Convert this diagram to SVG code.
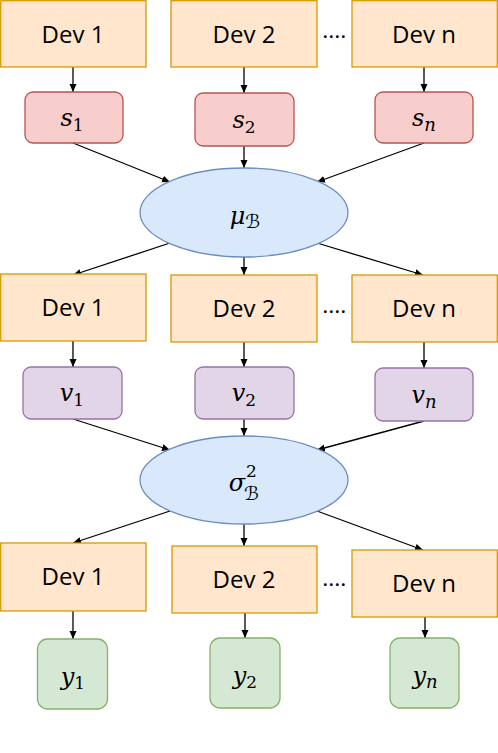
<svg xmlns="http://www.w3.org/2000/svg" width="498" height="753" viewBox="0 0 498 753">
<style>
.dev{fill:#ffe6cc;stroke:#d79b00;stroke-width:1.3}
.s{fill:#f8cecc;stroke:#b85450;stroke-width:1.3}
.v{fill:#e1d5e7;stroke:#9673a6;stroke-width:1.3}
.y{fill:#d5e8d4;stroke:#82b366;stroke-width:1.3}
.e{fill:#dae8fc;stroke:#6c8ebf;stroke-width:1.3}
.lbl{font-family:"Open Sans","Noto Sans",sans-serif;font-size:24px;fill:#000;text-anchor:middle}
.m{font-family:"DejaVu Serif","Liberation Serif",serif;font-style:italic;font-size:24px;fill:#000}
.sub{font-family:"DejaVu Serif","Liberation Serif",serif;font-style:normal;font-size:17px}
.subi{font-family:"DejaVu Serif","Liberation Serif",serif;font-style:italic;font-size:18px}
.cal{font-family:"DejaVu Sans","DejaVu Serif",serif;font-style:normal;font-size:19px}
.dots{font-family:"Open Sans",sans-serif;font-size:16px;font-weight:bold;fill:#000;text-anchor:middle;letter-spacing:1.5px}
.c line{stroke:#000;stroke-width:1.3;marker-end:url(#ah)}
</style>
<defs>
<marker id="ah" markerUnits="userSpaceOnUse" markerWidth="9" markerHeight="8" refX="8" refY="3.5" orient="auto">
<path d="M0,0 L8,3.5 L0,7 z" fill="#000"/>
</marker>
</defs>
<g id="connectors" class="c">
<line x1="73" y1="67" x2="73" y2="92"/>
<line x1="244" y1="67" x2="244" y2="93"/>
<line x1="424" y1="67" x2="424" y2="92"/>
<line x1="73" y1="143" x2="170" y2="182"/>
<line x1="244" y1="146" x2="244" y2="168"/>
<line x1="424" y1="143" x2="317" y2="182"/>
<line x1="170" y1="243" x2="73" y2="275"/>
<line x1="244" y1="257" x2="244" y2="275"/>
<line x1="317" y1="243" x2="423" y2="275"/>
<line x1="73" y1="341" x2="73" y2="367"/>
<line x1="244" y1="342" x2="244" y2="367"/>
<line x1="424" y1="342" x2="424" y2="368"/>
<line x1="73" y1="419" x2="170" y2="450"/>
<line x1="244" y1="419" x2="244" y2="436"/>
<line x1="424" y1="421" x2="317" y2="450"/>
<line x1="170" y1="511" x2="73" y2="543"/>
<line x1="244" y1="524" x2="244" y2="546"/>
<line x1="317" y1="511" x2="423" y2="550"/>
<line x1="73" y1="611" x2="73" y2="639"/>
<line x1="245" y1="613" x2="245" y2="638"/>
<line x1="425" y1="617" x2="425" y2="638"/>
</g>
<g id="dev1a"><rect class="dev" x="0.7" y="0.7" width="145.3" height="66.3"/><text class="lbl" x="73" y="43">Dev 1</text></g>
<g id="dev2a"><rect class="dev" x="171" y="0.7" width="146" height="66.3"/><text class="lbl" x="244" y="43">Dev 2</text></g>
<g id="dotsA"><text class="dots" x="335" y="38">....</text></g>
<g id="devna"><rect class="dev" x="352" y="0.7" width="145.3" height="66.3"/><text class="lbl" x="424" y="43">Dev n</text></g>
<g id="s1"><rect class="s" x="25" y="92" width="98" height="51" rx="8"/><text class="m" x="72" y="126" text-anchor="middle">s<tspan class="sub" dy="5">1</tspan></text></g>
<g id="s2"><rect class="s" x="195" y="93" width="99" height="53" rx="8"/><text class="m" x="244" y="128" text-anchor="middle">s<tspan class="sub" dy="5">2</tspan></text></g>
<g id="sn"><rect class="s" x="375" y="92" width="98" height="51" rx="8"/><text class="m" x="424" y="126" text-anchor="middle">s<tspan class="subi" dy="5">n</tspan></text></g>
<g id="mu"><ellipse class="e" cx="244" cy="212.5" rx="104" ry="44.5"/><text class="m" x="245" y="224" text-anchor="middle">μ<tspan class="cal" dy="4">ℬ</tspan></text></g>
<g id="dev1b"><rect class="dev" x="0.7" y="274" width="145.3" height="67"/><text class="lbl" x="73" y="316">Dev 1</text></g>
<g id="dev2b"><rect class="dev" x="171" y="275" width="146" height="67"/><text class="lbl" x="244" y="317">Dev 2</text></g>
<g id="dotsB"><text class="dots" x="335" y="313">....</text></g>
<g id="devnb"><rect class="dev" x="352" y="275" width="145.3" height="67"/><text class="lbl" x="424" y="317">Dev n</text></g>
<g id="v1"><rect class="v" x="23" y="367" width="99" height="52" rx="8"/><text class="m" x="72" y="401" text-anchor="middle">v<tspan class="sub" dy="5">1</tspan></text></g>
<g id="v2"><rect class="v" x="195" y="367" width="99" height="52" rx="8"/><text class="m" x="244" y="401" text-anchor="middle">v<tspan class="sub" dy="5">2</tspan></text></g>
<g id="vn"><rect class="v" x="375" y="368" width="98" height="53" rx="8"/><text class="m" x="424" y="403" text-anchor="middle">v<tspan class="subi" dy="5">n</tspan></text></g>
<g id="sigma"><ellipse class="e" cx="244" cy="480" rx="104" ry="44"/><text class="m" x="237" y="491" text-anchor="middle">σ</text><text class="sub" x="246" y="477">2</text><text class="cal" x="244" y="500">ℬ</text></g>
<g id="dev1c"><rect class="dev" x="0.7" y="543" width="145.3" height="68"/><text class="lbl" x="73" y="585">Dev 1</text></g>
<g id="dev2c"><rect class="dev" x="172" y="546" width="145" height="67"/><text class="lbl" x="244" y="588">Dev 2</text></g>
<g id="dotsC"><text class="dots" x="335" y="586">....</text></g>
<g id="devnc"><rect class="dev" x="352" y="550" width="145.3" height="67"/><text class="lbl" x="424" y="592">Dev n</text></g>
<g id="y1"><rect class="y" x="37.5" y="639" width="70" height="70" rx="10"/><text class="m" x="73" y="685" text-anchor="middle">y<tspan class="sub" dy="4">1</tspan></text></g>
<g id="y2"><rect class="y" x="210" y="638" width="70" height="70" rx="10"/><text class="m" x="245" y="684" text-anchor="middle">y<tspan class="sub" dy="4">2</tspan></text></g>
<g id="yn"><rect class="y" x="390" y="638" width="69" height="70" rx="10"/><text class="m" x="425" y="684" text-anchor="middle">y<tspan class="subi" dy="4">n</tspan></text></g>
</svg>
